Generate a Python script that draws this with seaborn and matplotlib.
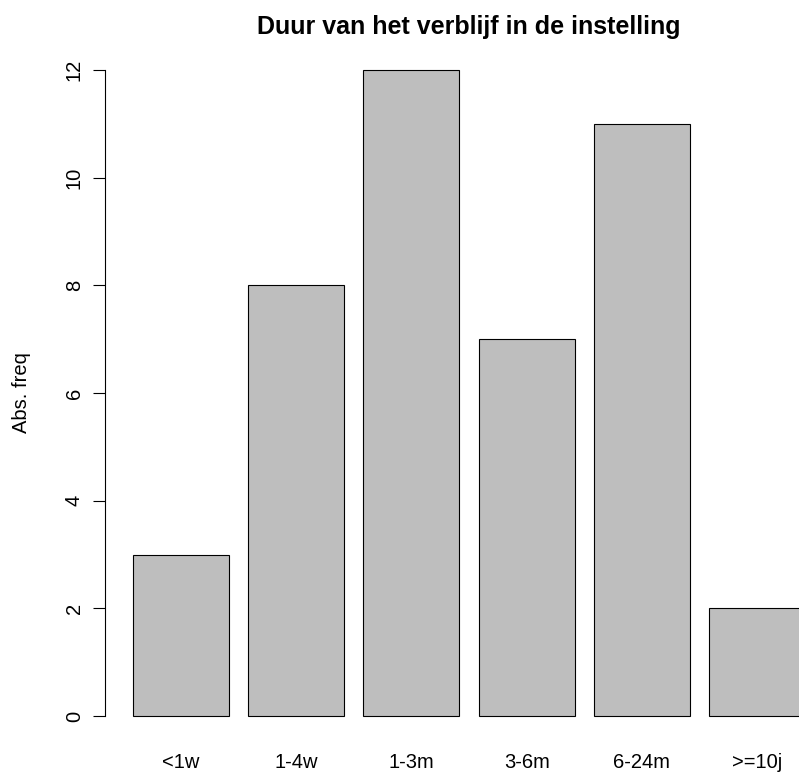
import matplotlib
matplotlib.use("Agg")
import matplotlib.pyplot as plt
import seaborn as sns

# data
categories = ["<1w", "1-4w", "1-3m", "3-6m", "6-24m", ">=10j"]
freq = [3, 8, 12, 7, 11, 2]
y_ticks = [0, 2, 4, 6, 8, 10, 12]

sns.set_theme(style="white")
plt.rcParams["font.family"] = ["Liberation Sans", "DejaVu Sans"]

W, H = 799, 776
fig = plt.figure(figsize=(W / 100, H / 100), dpi=100)

# plot region like R's barplot (right side runs past the image edge)
left_px, right_px = 105.5, 832
top_px, bottom_px = 44, 742
ax = fig.add_axes([left_px / W, 1 - bottom_px / H,
                   (right_px - left_px) / W, (bottom_px - top_px) / H])

sns.barplot(x=categories, y=freq, color="#BEBEBE", saturation=1,
            edgecolor="black", linewidth=0.8, width=1 / 1.2, ax=ax)

ax.set_xlim(-0.655, 5.65)
ax.set_ylim(-0.48, 12.48)

for s in ["top", "right", "bottom"]:
    ax.spines[s].set_visible(False)
ax.spines["left"].set_bounds(0, 12)
ax.spines["left"].set_color("black")
ax.spines["left"].set_linewidth(0.8)

fs = 14.5
ax.set_yticks(y_ticks)
ax.set_yticklabels([str(t) for t in y_ticks], rotation=90, va="center")
ax.tick_params(axis="y", length=8.6, width=0.8, pad=7, labelsize=fs,
               colors="black", left=True)
ax.tick_params(axis="x", length=0, pad=8, labelsize=fs, colors="black")

ax.set_xlabel("")
ax.set_ylabel("Abs. freq", fontsize=fs, color="black")
ax.yaxis.set_label_coords((22 - left_px) / (right_px - left_px), 0.5)
ax.yaxis.label.set_va("center")

ax.set_title("Duur van het verblijf in de instelling", fontsize=18,
             fontweight="bold", pad=7, color="black")

fig.savefig("out.png", dpi=100)
